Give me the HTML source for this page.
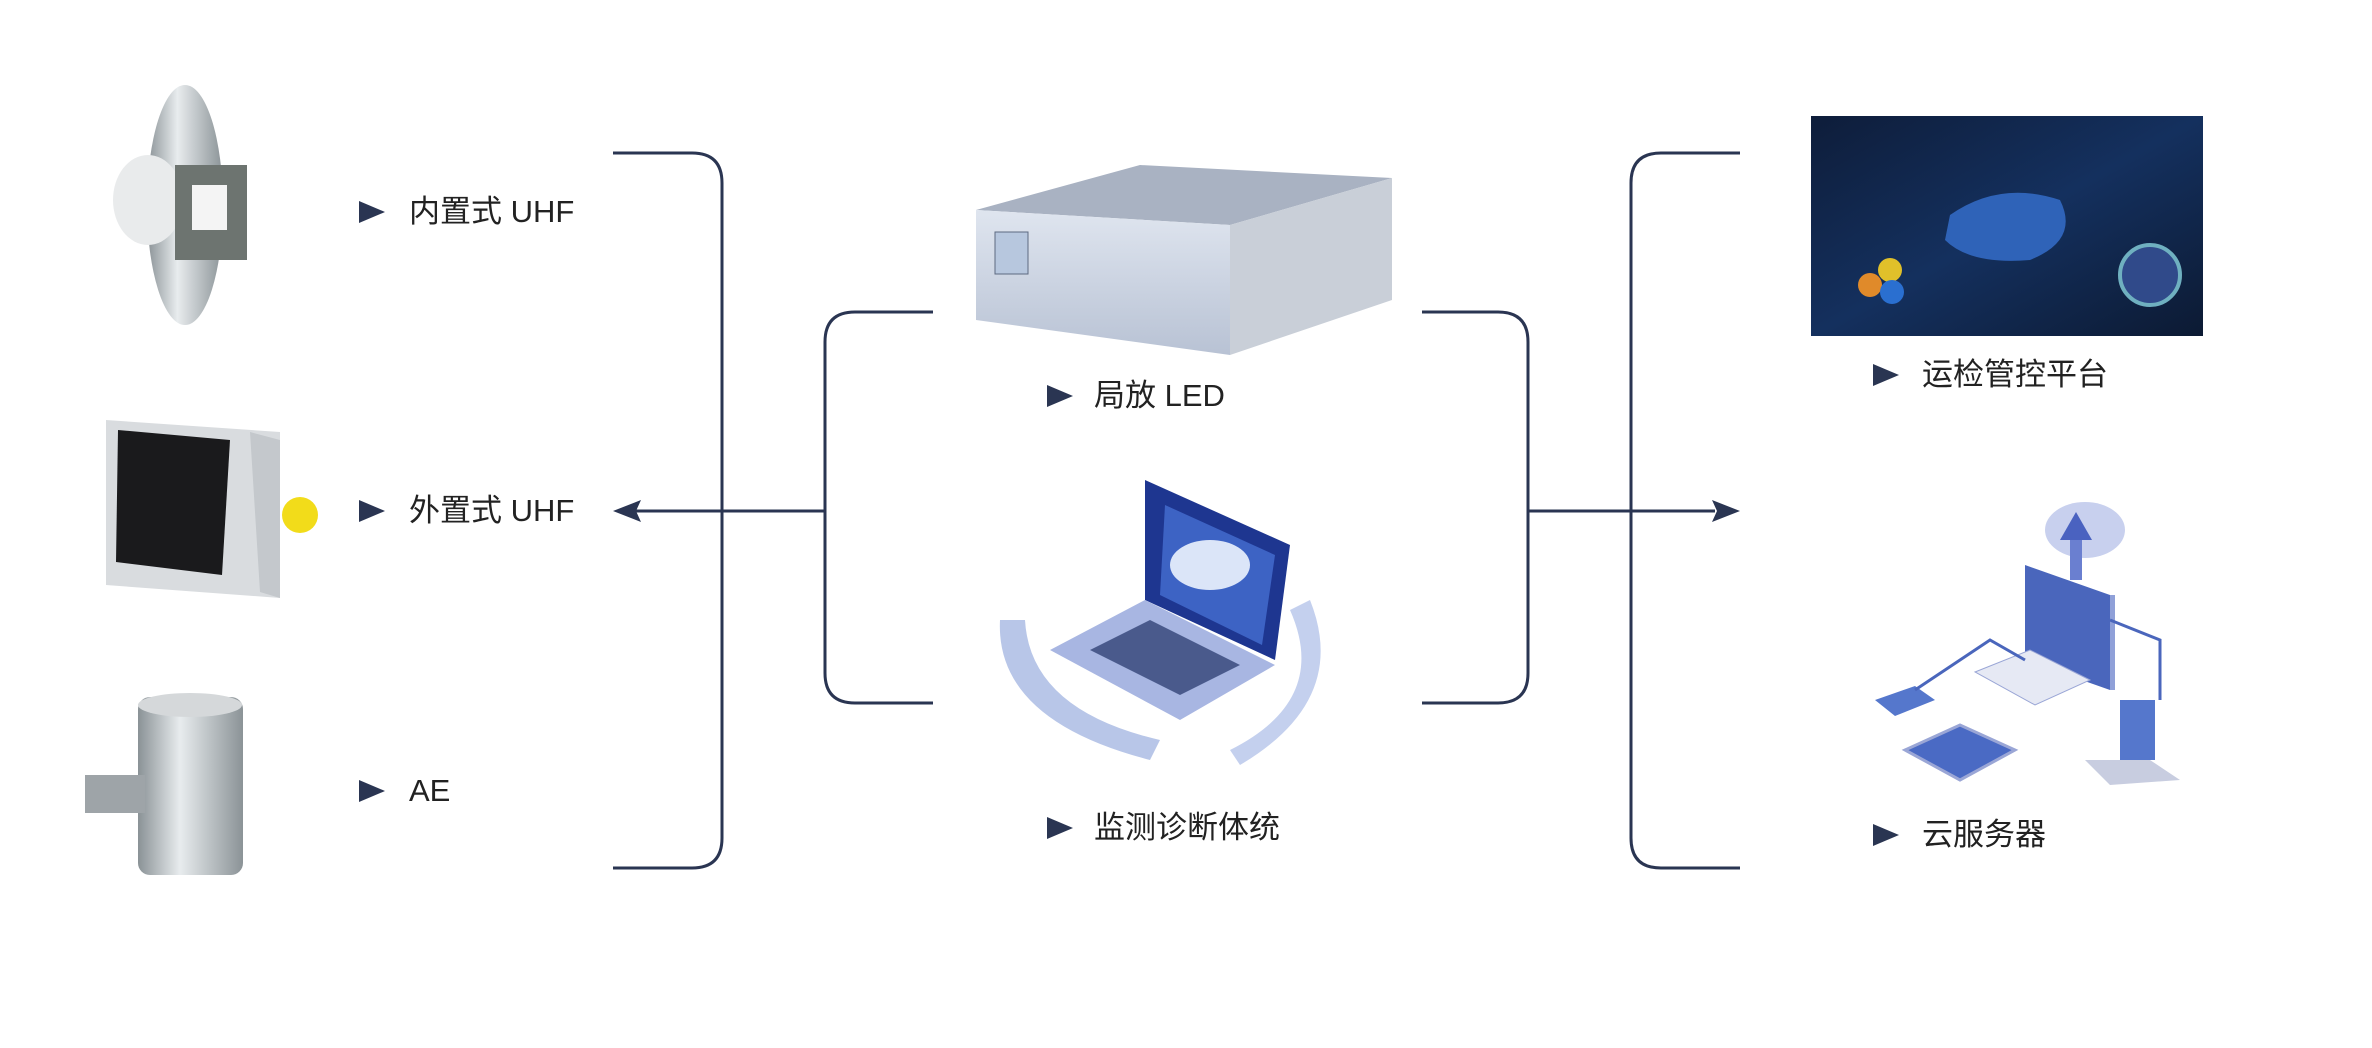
<!DOCTYPE html>
<html><head><meta charset="utf-8"><style>
html,body{margin:0;padding:0;background:#fff;}
#c{position:relative;width:2372px;height:1048px;overflow:hidden;background:#fff;font-family:"Liberation Sans","Noto Sans CJK SC",sans-serif;}
.l{position:absolute;font-size:31px;color:#222;line-height:36px;white-space:nowrap;}
.t{position:absolute;width:0;height:0;border-top:11px solid transparent;border-bottom:11px solid transparent;border-left:26px solid #2a3552;}
</style></head><body><div id="c">
<svg width="2372" height="1048" style="position:absolute;left:0;top:0">
<defs>
<linearGradient id="met" x1="0" x2="1"><stop offset="0" stop-color="#8a9296"/><stop offset=".4" stop-color="#e8ecee"/><stop offset="1" stop-color="#8b9397"/></linearGradient>
<linearGradient id="rack" x1="0" y1="0" x2="0" y2="1"><stop offset="0" stop-color="#dfe5ef"/><stop offset="1" stop-color="#b8c2d4"/></linearGradient>
<linearGradient id="dash" x1="0" y1="0" x2="1" y2="1"><stop offset="0" stop-color="#0e1d3a"/><stop offset=".5" stop-color="#14305e"/><stop offset="1" stop-color="#0c1a33"/></linearGradient>
</defs>
<g fill="none" stroke="#2a3552" stroke-width="3">
<path d="M613 153 H692 Q722 153 722 183 V838 Q722 868 692 868 H613"/>
<path d="M933 312 H855 Q825 312 825 342 V673 Q825 703 855 703 H933"/>
<path d="M635 511 H825"/>
<path d="M1422 312 H1498 Q1528 312 1528 342 V673 Q1528 703 1498 703 H1422"/>
<path d="M1528 511 H1715"/>
<path d="M1740 153 H1661 Q1631 153 1631 183 V838 Q1631 868 1661 868 H1740"/>
</g>
<polygon points="613,511 641,500 636,511 641,522" fill="#2a3552"/>
<polygon points="1740,511 1712,500 1717,511 1712,522" fill="#2a3552"/>
<!-- internal UHF -->
<ellipse cx="185" cy="205" rx="38" ry="120" fill="url(#met)"/>
<ellipse cx="148" cy="200" rx="35" ry="45" fill="#e9ebec"/>
<rect x="175" y="165" width="72" height="95" fill="#6d7470"/>
<rect x="192" y="185" width="35" height="45" fill="#f4f4f4"/>
<!-- external UHF -->
<polygon points="106,420 280,432 280,598 106,585" fill="#d9dcdf"/>
<polygon points="118,430 230,440 222,575 116,562" fill="#1a1a1c"/>
<polygon points="250,432 280,440 280,598 260,592" fill="#c4c8cc"/>
<circle cx="300" cy="515" r="18" fill="#f2dc1a"/>
<!-- AE -->
<rect x="138" y="697" width="105" height="178" rx="12" fill="url(#met)"/>
<ellipse cx="190" cy="705" rx="52" ry="12" fill="#d5d8da"/>
<rect x="85" y="775" width="60" height="38" fill="#9ea4a8"/>
<!-- rack -->
<polygon points="976,210 1140,165 1392,178 1230,225" fill="#a9b2c2"/>
<polygon points="976,210 1230,225 1230,355 976,320" fill="url(#rack)"/>
<polygon points="1230,225 1392,178 1392,300 1230,355" fill="#c9cfd8"/>
<rect x="995" y="232" width="33" height="42" fill="#b7c7de" stroke="#5d6a80"/>
<!-- laptop -->
<path d="M1000 620 Q995 720 1150 760 L1160 740 Q1030 710 1025 620Z" fill="#b8c6e8"/>
<path d="M1290 610 Q1330 700 1230 750 L1240 765 Q1350 700 1310 600Z" fill="#c4d0ee"/>
<polygon points="1145,480 1290,545 1275,660 1145,600" fill="#1e3690"/>
<polygon points="1165,505 1275,555 1262,645 1160,595" fill="#3d63c4"/>
<ellipse cx="1210" cy="565" rx="40" ry="25" fill="#dbe5f8"/>
<polygon points="1050,650 1145,600 1275,665 1180,720" fill="#a8b6e2"/>
<polygon points="1090,650 1150,620 1240,665 1180,695" fill="#4a5a8c"/>
<!-- dashboard -->
<rect x="1811" y="116" width="392" height="220" fill="url(#dash)"/>
<path d="M1950 215 Q2000 180 2060 200 Q2080 240 2030 260 Q1970 265 1945 240Z" fill="#2f63b8"/>
<circle cx="2150" cy="275" r="30" fill="#304a8a" stroke="#6fb0c0" stroke-width="4"/>
<circle cx="1870" cy="285" r="12" fill="#e08a2a"/><circle cx="1890" cy="270" r="12" fill="#e0c02a"/><circle cx="1892" cy="292" r="12" fill="#2a6fd0"/>
<!-- cloud servers -->
<ellipse cx="2085" cy="530" rx="40" ry="28" fill="#c8d0ee"/>
<rect x="2070" y="530" width="12" height="50" fill="#6a7fd0"/>
<polygon points="2076,512 2060,540 2092,540" fill="#4a62c0"/>
<polygon points="2025,565 2110,595 2110,690 2025,660" fill="#4a66bc"/>
<polygon points="2110,595 2115,595 2115,690 2110,690" fill="#8fa0d8"/>
<polygon points="1975,672 2030,650 2090,680 2035,705" fill="#e6e9f4" stroke="#9aa6d6"/>
<polygon points="1875,700 1915,686 1935,700 1895,716" fill="#5577cc"/>
<polygon points="1905,750 1960,725 2015,750 1960,780" fill="#4a6ac4" stroke="#9aa6d6" stroke-width="3"/>
<polygon points="2120,700 2155,700 2155,760 2120,760" fill="#5577cc"/>
<polygon points="2085,760 2150,760 2180,780 2110,785" fill="#c8cde0"/>
<g stroke="#4a66bc" stroke-width="3" fill="none"><path d="M1915 690 L1990 640 L2025 660"/><path d="M2110 620 L2160 640 L2160 700"/></g>
</svg>
<div class="t" style="left:359px;top:201px"></div><div class="l" style="left:409px;top:194px">内置式 UHF</div>
<div class="t" style="left:359px;top:500px"></div><div class="l" style="left:409px;top:493px">外置式 UHF</div>
<div class="t" style="left:359px;top:780px"></div><div class="l" style="left:409px;top:773px">AE</div>
<div class="t" style="left:1047px;top:385px"></div><div class="l" style="left:1094px;top:378px">局放 LED</div>
<div class="t" style="left:1047px;top:817px"></div><div class="l" style="left:1094px;top:810px">监测诊断体统</div>
<div class="t" style="left:1873px;top:364px"></div><div class="l" style="left:1922px;top:357px">运检管控平台</div>
<div class="t" style="left:1873px;top:824px"></div><div class="l" style="left:1922px;top:817px">云服务器</div>
</div></body></html>
